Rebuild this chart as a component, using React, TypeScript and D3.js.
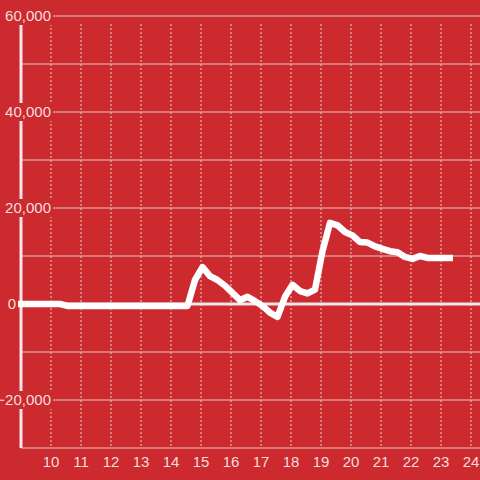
import React from "react";
import * as d3 from "d3";

const xs = [8.9, 10.3, 10.55, 14.55, 14.8, 15.05, 15.3, 15.55, 15.8, 16.05, 16.3, 16.55, 16.8, 17.05, 17.3, 17.55, 17.8, 18.05, 18.3, 18.55, 18.8, 19.05, 19.3, 19.55, 19.8, 20.05, 20.3, 20.55, 20.8, 21.05, 21.3, 21.55, 21.8, 22.05, 22.3, 22.55, 22.8, 23.05, 23.3, 23.4];
const ys = [0, 0, -400, -400, 5000, 7700, 5800, 5000, 3800, 2300, 800, 1500, 600, -400, -1800, -2700, 1500, 4000, 2700, 2200, 3000, 11000, 16900, 16400, 15000, 14300, 12900, 12800, 12000, 11500, 11000, 10800, 9800, 9400, 10000, 9600, 9600, 9600, 9600, 9600];
const xTicks = [10, 11, 12, 13, 14, 15, 16, 17, 18, 19, 20, 21, 22, 23, 24];
const yGrid = [60000, 50000, 40000, 30000, 20000, 10000, -10000, -20000];
const yLabels = [60000, 40000, 20000, 0, -20000];

const BG = "#cc2a2f";

export default function App() {
  const x = d3.scaleLinear().domain([9, 24]).range([21, 471]);
  const y = d3.scaleLinear().domain([-30000, 60000]).range([448, 16]);
  const line = d3.line<number>().x((_, i) => x(xs[i])).y((d) => y(d));
  const fmt = d3.format(",");
  return (
    <svg width={480} height={480} style={{ position: "absolute", left: 0, top: 0, background: BG }} fontFamily="'Liberation Sans', Arial, sans-serif">
      <rect width={480} height={480} fill={BG} />
      {xTicks.map((t) => (
        <line key={"v" + t} x1={x(t)} x2={x(t)} y1={24} y2={447} stroke="#e0d0d0" strokeWidth={1} strokeDasharray="2,2" />
      ))}
      {yGrid.map((t) => (
        <line key={"h" + t} x1={21} x2={480} y1={y(t)} y2={y(t)} stroke="#d8c8c8" strokeWidth={1} />
      ))}
      <line x1={21} x2={480} y1={y(-30000)} y2={y(-30000)} stroke="#d8c8c8" strokeWidth={1} />
      <line x1={21} x2={480} y1={y(0)} y2={y(0)} stroke="#f0e8e8" strokeWidth={3} />
      <line x1={21} x2={21} y1={24} y2={448} stroke="#f0e8e8" strokeWidth={3} />
      <path d={line(ys) || ""} fill="none" stroke="#ffffff" strokeWidth={6.5} strokeLinejoin="round" />
      {yLabels.map((t) => {
        const s = fmt(t);
        const right = t === 0 ? 16 : 51;
        const w = s.length * 8.3;
        return (
          <g key={"l" + t}>
            {t !== 0 && <rect x={right - w - 1} y={y(t) - 9} width={w + 3} height={18} fill={BG} />}
            <text x={right} y={y(t)} dy="0.35em" textAnchor="end" fontSize={15} fill="#f3dede">{s}</text>
          </g>
        );
      })}
      {xTicks.map((t) => (
        <text key={"x" + t} x={x(t)} y={467} textAnchor="middle" fontSize={15} fill="#f3dede">{t}</text>
      ))}
    </svg>
  );
}
